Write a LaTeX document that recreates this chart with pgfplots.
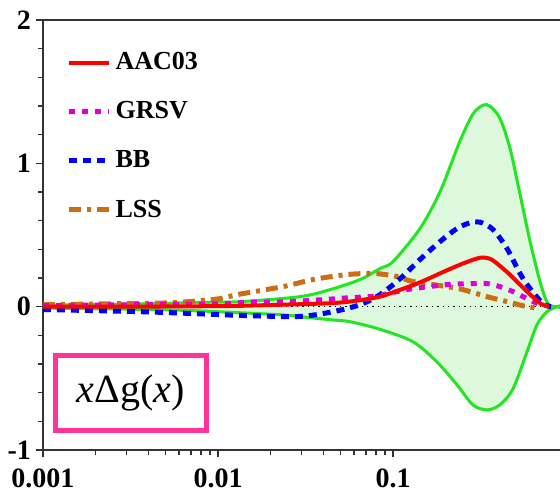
\documentclass[border=0pt]{standalone}
\usepackage{fontspec}
\setmainfont{Liberation Serif}
\usepackage{pgfplots}
\pgfplotsset{compat=1.18}
\definecolor{Band}{HTML}{22E622}
\definecolor{BandFill}{HTML}{DDF8DD}
\definecolor{Mag}{HTML}{DD00DD}
\definecolor{Orng}{HTML}{CC6E14}
\definecolor{Pink}{HTML}{FF3399}
\definecolor{Ax}{HTML}{333333}

\begin{document}
\begin{tikzpicture}
\path[use as bounding box] (-21.5pt,-21.5pt) rectangle (258.5pt,225pt);
\begin{axis}[at={(0,0)},anchor=south west,scale only axis,
width=258.5pt,height=215pt,xmode=log,xmin=0.001,xmax=0.9,ymin=-1,ymax=2,
axis x line*=bottom,axis y line*=left,axis line style={draw=Ax,line width=1pt,-},
tick align=outside,tick style={draw=Ax,line width=0.8pt},
major tick length=3.5pt,minor tick length=2.5pt,
xtick={0.001,0.01,0.1},xticklabels={0.001,0.01,0.1},
ytick={-1,0,1,2},yticklabels={-1,0,1,2},minor y tick num=4,
tick label style={font=\fontsize{14}{14}\selectfont\bfseries},
yticklabel style={xshift=1pt},
xticklabel style={yshift=-2.5pt},
reverse legend,
legend style={draw=none,fill=none,inner sep=0pt,at={(axis description cs:0.045,0.935)},anchor=north west,
font=\fontsize{13}{13}\selectfont\bfseries,row sep=10.5pt,
cells={anchor=west}},
legend image code/.code={\draw[#1] (0pt,0pt) -- (20pt,0pt);}]
% error band
\addplot[fill=BandFill,draw=none,forget plot] coordinates {
(0.001,0.01)(0.00212,0.015)(0.00408,0.02)(0.00789,0.03)(0.01336,0.035)(0.0294,0.07)
(0.0437,0.119)(0.0648,0.189)(0.0843,0.266)(0.1,0.315)(0.1426,0.545)(0.186,0.804)
(0.241,1.154)(0.286,1.343)(0.327,1.406)(0.358,1.399)(0.408,1.315)(0.466,1.105)
(0.532,0.783)(0.607,0.455)(0.692,0.175)(0.768,0.021)(0.865,0)(0.9,-0.005)
(0.865,0)(0.759,-0.035)(0.665,-0.126)(0.583,-0.315)(0.485,-0.573)(0.408,-0.685)
(0.344,-0.72)(0.286,-0.685)(0.232,-0.545)(0.178,-0.385)(0.13,-0.245)(0.0843,-0.158)
(0.0568,-0.105)(0.0437,-0.091)(0.0294,-0.07)(0.0226,-0.056)(0.00789,-0.03)
(0.00408,-0.02)(0.001,-0.01)} -- cycle;
\addplot[Band,line width=1.5pt,smooth,forget plot] coordinates {
(0.001,0.01)(0.00212,0.015)(0.00408,0.02)(0.00789,0.03)(0.01336,0.035)(0.0294,0.07)
(0.0437,0.119)(0.0648,0.189)(0.0843,0.266)(0.1,0.315)(0.1426,0.545)(0.186,0.804)
(0.241,1.154)(0.286,1.343)(0.327,1.406)(0.358,1.399)(0.408,1.315)(0.466,1.105)
(0.532,0.783)(0.607,0.455)(0.692,0.175)(0.768,0.021)(0.865,0)(0.9,-0.005)};
\addplot[Band,line width=1.5pt,smooth,forget plot] coordinates {
(0.001,-0.01)(0.00408,-0.02)(0.00789,-0.03)(0.0226,-0.056)(0.0294,-0.07)(0.0437,-0.091)
(0.0568,-0.105)(0.0843,-0.158)(0.13,-0.245)(0.178,-0.385)(0.232,-0.545)(0.286,-0.685)
(0.344,-0.72)(0.408,-0.685)(0.485,-0.573)(0.583,-0.315)(0.665,-0.126)(0.759,-0.035)
(0.865,0)(0.9,0.005)};
% zero line
\addplot[black,dotted,line width=0.7pt,forget plot] coordinates {(0.001,0)(0.75,0)};
% LSS
\addplot[Orng,line width=2.5pt,smooth,dash pattern=on 6pt off 3pt on 2pt off 3pt] coordinates {
(0.001,0.014)(0.00251,0.02)(0.00553,0.028)(0.01026,0.056)(0.01285,0.084)(0.0235,0.14)
(0.0349,0.189)(0.0546,0.224)(0.0789,0.231)(0.1055,0.21)(0.13,0.175)(0.203,0.14)
(0.251,0.119)(0.344,0.07)(0.448,0.035)(0.583,0)(0.692,-0.01)};
\addlegendentry{LSS}
% BB
\addplot[blue,line width=2.5pt,smooth,dash pattern=on 4pt off 3pt] coordinates {
(0.001,-0.02)(0.0036,-0.035)(0.00789,-0.05)(0.0152,-0.063)(0.0294,-0.068)(0.0454,-0.035)
(0.0648,0.014)(0.0843,0.084)(0.11,0.196)(0.1426,0.329)(0.186,0.455)(0.232,0.545)
(0.275,0.585)(0.314,0.59)(0.373,0.538)(0.448,0.406)(0.532,0.231)(0.607,0.126)
(0.72,0.021)(0.8,0)};
\addlegendentry{BB}
% GRSV
\addplot[Mag,line width=2.5pt,smooth,dash pattern=on 3pt off 3.5pt] coordinates {
(0.001,0.007)(0.00408,0.015)(0.01026,0.02)(0.0147,0.03)(0.0248,0.035)(0.0398,0.049)
(0.0568,0.063)(0.081,0.075)(0.12,0.119)(0.203,0.154)(0.286,0.161)(0.344,0.161)
(0.408,0.14)(0.485,0.105)(0.583,0.056)(0.692,0.014)};
\addlegendentry{GRSV}
% AAC03
\addplot[red,line width=2pt,smooth] coordinates {
(0.001,0)(0.003,0)(0.006,0.002)(0.0122,0.005)(0.0235,0.014)(0.0454,0.025)(0.0648,0.045)
(0.0843,0.07)(0.1,0.1)(0.13,0.15)(0.156,0.19)(0.2,0.25)(0.25,0.3)(0.3,0.335)
(0.33,0.343)(0.37,0.325)(0.45,0.24)(0.53,0.155)(0.62,0.075)(0.7,0.02)(0.78,0)};
\addlegendentry{AAC03}
\node[draw=Pink,line width=2.5pt,minimum width=75.5pt,minimum height=37.5pt,inner sep=0pt,
font=\fontsize{20}{20}\selectfont] at (rel axis cs:0.170,0.1326) {\textit{x}Δg(\textit{x})};
\end{axis}
\draw[Ax,line width=1pt] (0,215pt) -- (258.5pt,215pt);
\end{tikzpicture}
\end{document}
